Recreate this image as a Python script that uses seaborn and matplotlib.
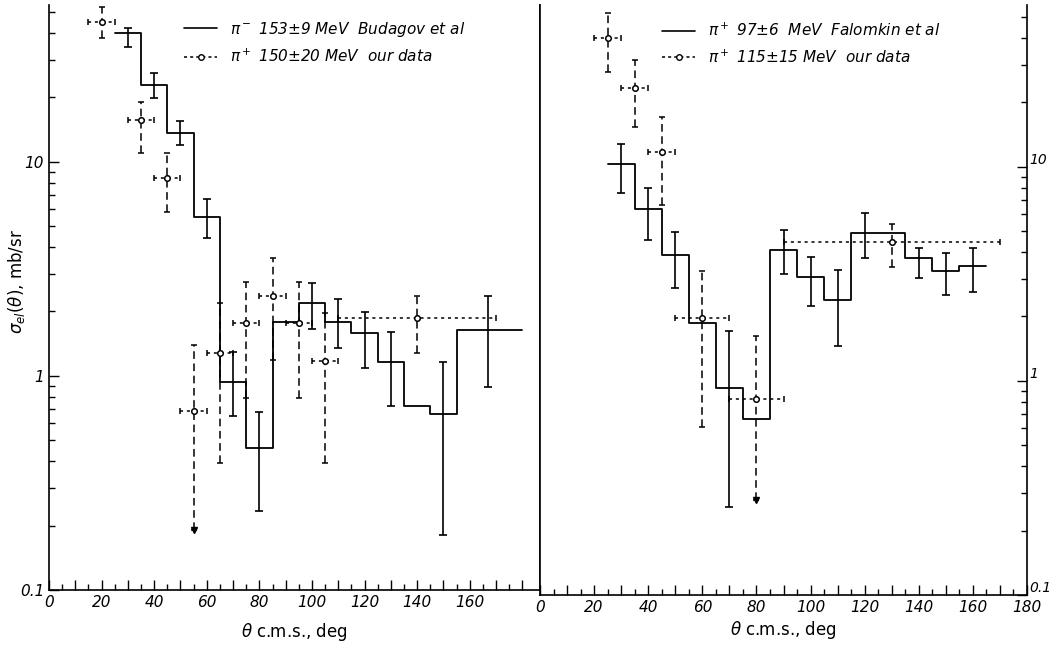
import matplotlib
matplotlib.use("Agg")
import matplotlib.pyplot as plt
import seaborn as sns
import pandas as pd
import numpy as np
from matplotlib.lines import Line2D
from matplotlib.ticker import FixedLocator, LogLocator, NullFormatter

# ---- left panel: pi- 153 MeV (Budagov) histogram and our pi+ 150 MeV data
left_edges = [25, 35, 45, 55, 65, 75, 85, 95, 105, 115, 125, 135, 145, 155, 180]
left_levels = [40, 22.9, 13.7, 5.5, 0.94, 0.46, 1.79, 2.2, 1.79, 1.59, 1.16, 0.72, 0.665, 1.64]
left_ref_x = [30, 40, 50, 60, 70, 80, 100, 110, 120, 130, 150, 167]
left_ref_lo = [34.5, 19.9, 12.0, 4.4, 0.65, 0.234, 1.66, 1.35, 1.09, 0.72, 0.18, 0.89]
left_ref_hi = [42, 26, 15.5, 6.7, 1.30, 0.68, 2.72, 2.29, 1.99, 1.61, 1.16, 2.36]

left_our_x = [20, 35, 45, 55, 65, 75, 85, 95, 105, 140]
left_our_y = [45, 15.6, 8.4, 0.686, 1.28, 1.77, 2.36, 1.77, 1.18, 1.87]
left_our_lo = [38, 11.0, 5.8, 0.19, 0.39, 0.79, 1.19, 0.79, 0.39, 1.28]
left_our_hi = [53, 19.1, 11.0, 1.40, 2.19, 2.75, 3.56, 2.75, 1.97, 2.36]
left_our_xerr = [5, 5, 5, 5, 5, 5, 5, 5, 5, 30]
left_limit_x = [55]
left_limit_y = [0.19]

# ---- right panel: pi+ 97 MeV (Falomkin) histogram and our pi+ 115 MeV data
right_edges = [25, 35, 45, 55, 65, 75, 85, 95, 105, 115, 125, 135, 145, 155, 165]
right_levels = [10.3, 6.36, 3.88, 1.87, 0.93, 0.665, 4.09, 3.06, 2.39, 4.92, 4.92, 3.75, 3.27, 3.45]
right_ref_x = [30, 40, 50, 70, 90, 100, 110, 120, 140, 150, 160]
right_ref_lo = [7.55, 4.55, 2.72, 0.258, 3.16, 2.24, 1.46, 3.75, 3.03, 2.52, 2.6]
right_ref_hi = [12.8, 7.97, 4.97, 1.71, 5.08, 3.79, 3.3, 6.1, 4.18, 3.97, 4.18]

right_our_x = [25, 35, 45, 60, 80, 130]
right_our_y = [40, 23.4, 11.7, 1.97, 0.824, 4.46]
right_our_lo = [27.8, 15.4, 6.64, 0.61, 0.278, 3.41]
right_our_hi = [52.4, 31.6, 17.1, 3.27, 1.62, 5.42]
right_our_xerr = [5, 5, 5, 10, 10, 40]
right_limit_x = [80]
right_limit_y = [0.278]

left_labels = [r"$\pi^-$ 153$\pm$9 MeV  Budagov et al", r"$\pi^+$ 150$\pm$20 MeV  our data"]
right_labels = [r"$\pi^+$ 97$\pm$6  MeV  Falomkin et al", r"$\pi^+$ 115$\pm$15 MeV  our data"]

sns.set_style("ticks")
plt.rcParams["font.family"] = ["DejaVu Sans"]
plt.rcParams["mathtext.fontset"] = "dejavusans"
plt.rcParams["mathtext.default"] = "it"
for key in ["text.color", "axes.labelcolor", "xtick.color", "ytick.color", "axes.edgecolor"]:
    plt.rcParams[key] = "black"


def draw_panel(ax, edges, levels, ref_x, ref_lo, ref_hi,
               our_x, our_y, our_lo, our_hi, our_xerr, lim_x, lim_y):
    ax.set_yscale("log")
    hist = pd.DataFrame({"theta": edges, "xs": levels + [levels[-1]]})
    sns.lineplot(data=hist, x="theta", y="xs", drawstyle="steps-post",
                 color="black", lw=1.3, estimator=None, ax=ax)

    lo = np.array(ref_lo)
    hi = np.array(ref_hi)
    mid = np.sqrt(lo * hi)
    ax.errorbar(ref_x, mid, yerr=[mid - lo, hi - mid], fmt="none",
                ecolor="black", elinewidth=1.2, capsize=3, capthick=1.2)

    oy = np.array(our_y)
    eb = ax.errorbar(our_x, oy, yerr=[oy - np.array(our_lo), np.array(our_hi) - oy],
                     xerr=our_xerr, fmt="o", ms=4, mfc="white", mec="black",
                     mew=1.1, ecolor="black", elinewidth=1.1, capsize=2.5, zorder=4)
    eb[2][0].set_linestyle((0, (2, 2.5)))
    eb[2][1].set_linestyle((0, (5, 3)))
    ax.plot(lim_x, lim_y, "v", color="black", ms=4)

    ax.set_ylabel("")
    ax.set_xlabel(r"$\theta$ c.m.s., deg", fontsize=12, labelpad=8)
    ax.xaxis.set_major_locator(FixedLocator(range(0, 181, 10)))
    ax.xaxis.set_minor_locator(FixedLocator(range(5, 181, 10)))
    ax.yaxis.set_major_locator(FixedLocator([0.1, 1, 10]))
    ax.yaxis.set_minor_locator(LogLocator(base=10, subs=np.arange(2, 10)))
    ax.yaxis.set_minor_formatter(NullFormatter())
    ax.tick_params(which="major", direction="in", length=7, width=1, labelsize=11)
    ax.tick_params(which="minor", direction="in", length=4, width=1)
    ax.spines["top"].set_visible(False)
    for s in ax.spines.values():
        s.set_linewidth(1.2)


fig = plt.figure(figsize=(10.5, 6.47), dpi=100)
ax1 = fig.add_axes([49 / 1050, 1 - 590 / 647, 491 / 1050, 585 / 647])
ax2 = fig.add_axes([540 / 1050, 1 - 595 / 647, 487 / 1050, 590 / 647])

draw_panel(ax1, left_edges, left_levels, left_ref_x, left_ref_lo, left_ref_hi,
           left_our_x, left_our_y, left_our_lo, left_our_hi, left_our_xerr,
           left_limit_x, left_limit_y)
draw_panel(ax2, right_edges, right_levels, right_ref_x, right_ref_lo, right_ref_hi,
           right_our_x, right_our_y, right_our_lo, right_our_hi, right_our_xerr,
           right_limit_x, right_limit_y)

ax1.set_xlim(0, 186.7)
ax1.set_ylim(0.1, 54)
ax1.set_xticklabels([str(v) if v % 20 == 0 and v <= 160 else "" for v in range(0, 181, 10)])
ax1.set_yticklabels(["0.1", "1", "10"])
fig.text(0.016, 0.565, r"$\sigma_{el}(\theta)$, mb/sr", rotation=90, fontsize=12,
         ha="center", va="center")

ax2.set_xlim(0, 180)
ax2.set_ylim(0.1, 57)
ax2.set_xticklabels([str(v) if v % 20 == 0 else "" for v in range(0, 181, 10)])
ax2.xaxis.labelpad = 3
ax2.yaxis.tick_right()
ax2.set_yticklabels(["0.1", "1", "10"])
ax2.tick_params(axis="y", which="both", direction="in", pad=2, labelsize=10)
for lab in ax2.get_yticklabels():
    lab.set_verticalalignment("bottom")

for ax in (ax1, ax2):
    for t in ax.get_xticklabels() + ax.get_yticklabels():
        t.set_fontstyle("italic")

handles = [Line2D([], [], color="black", lw=1.2),
           Line2D([], [], color="black", lw=1.1, ls=(0, (2, 2)), marker="o",
                  ms=4, mfc="white", mec="black")]
ax1.legend(handles, left_labels, loc="upper left", frameon=False,
           bbox_to_anchor=(170 / 1050, 1 - 6 / 647), bbox_transform=fig.transFigure,
           prop={"size": 11, "style": "italic"}, handlelength=2.2, labelspacing=0.6)
ax2.legend(handles, right_labels, loc="upper left", frameon=False,
           bbox_to_anchor=(648 / 1050, 1 - 8 / 647), bbox_transform=fig.transFigure,
           prop={"size": 11, "style": "italic"}, handlelength=2.2, labelspacing=0.6)

fig.savefig("out.png", dpi=100)
